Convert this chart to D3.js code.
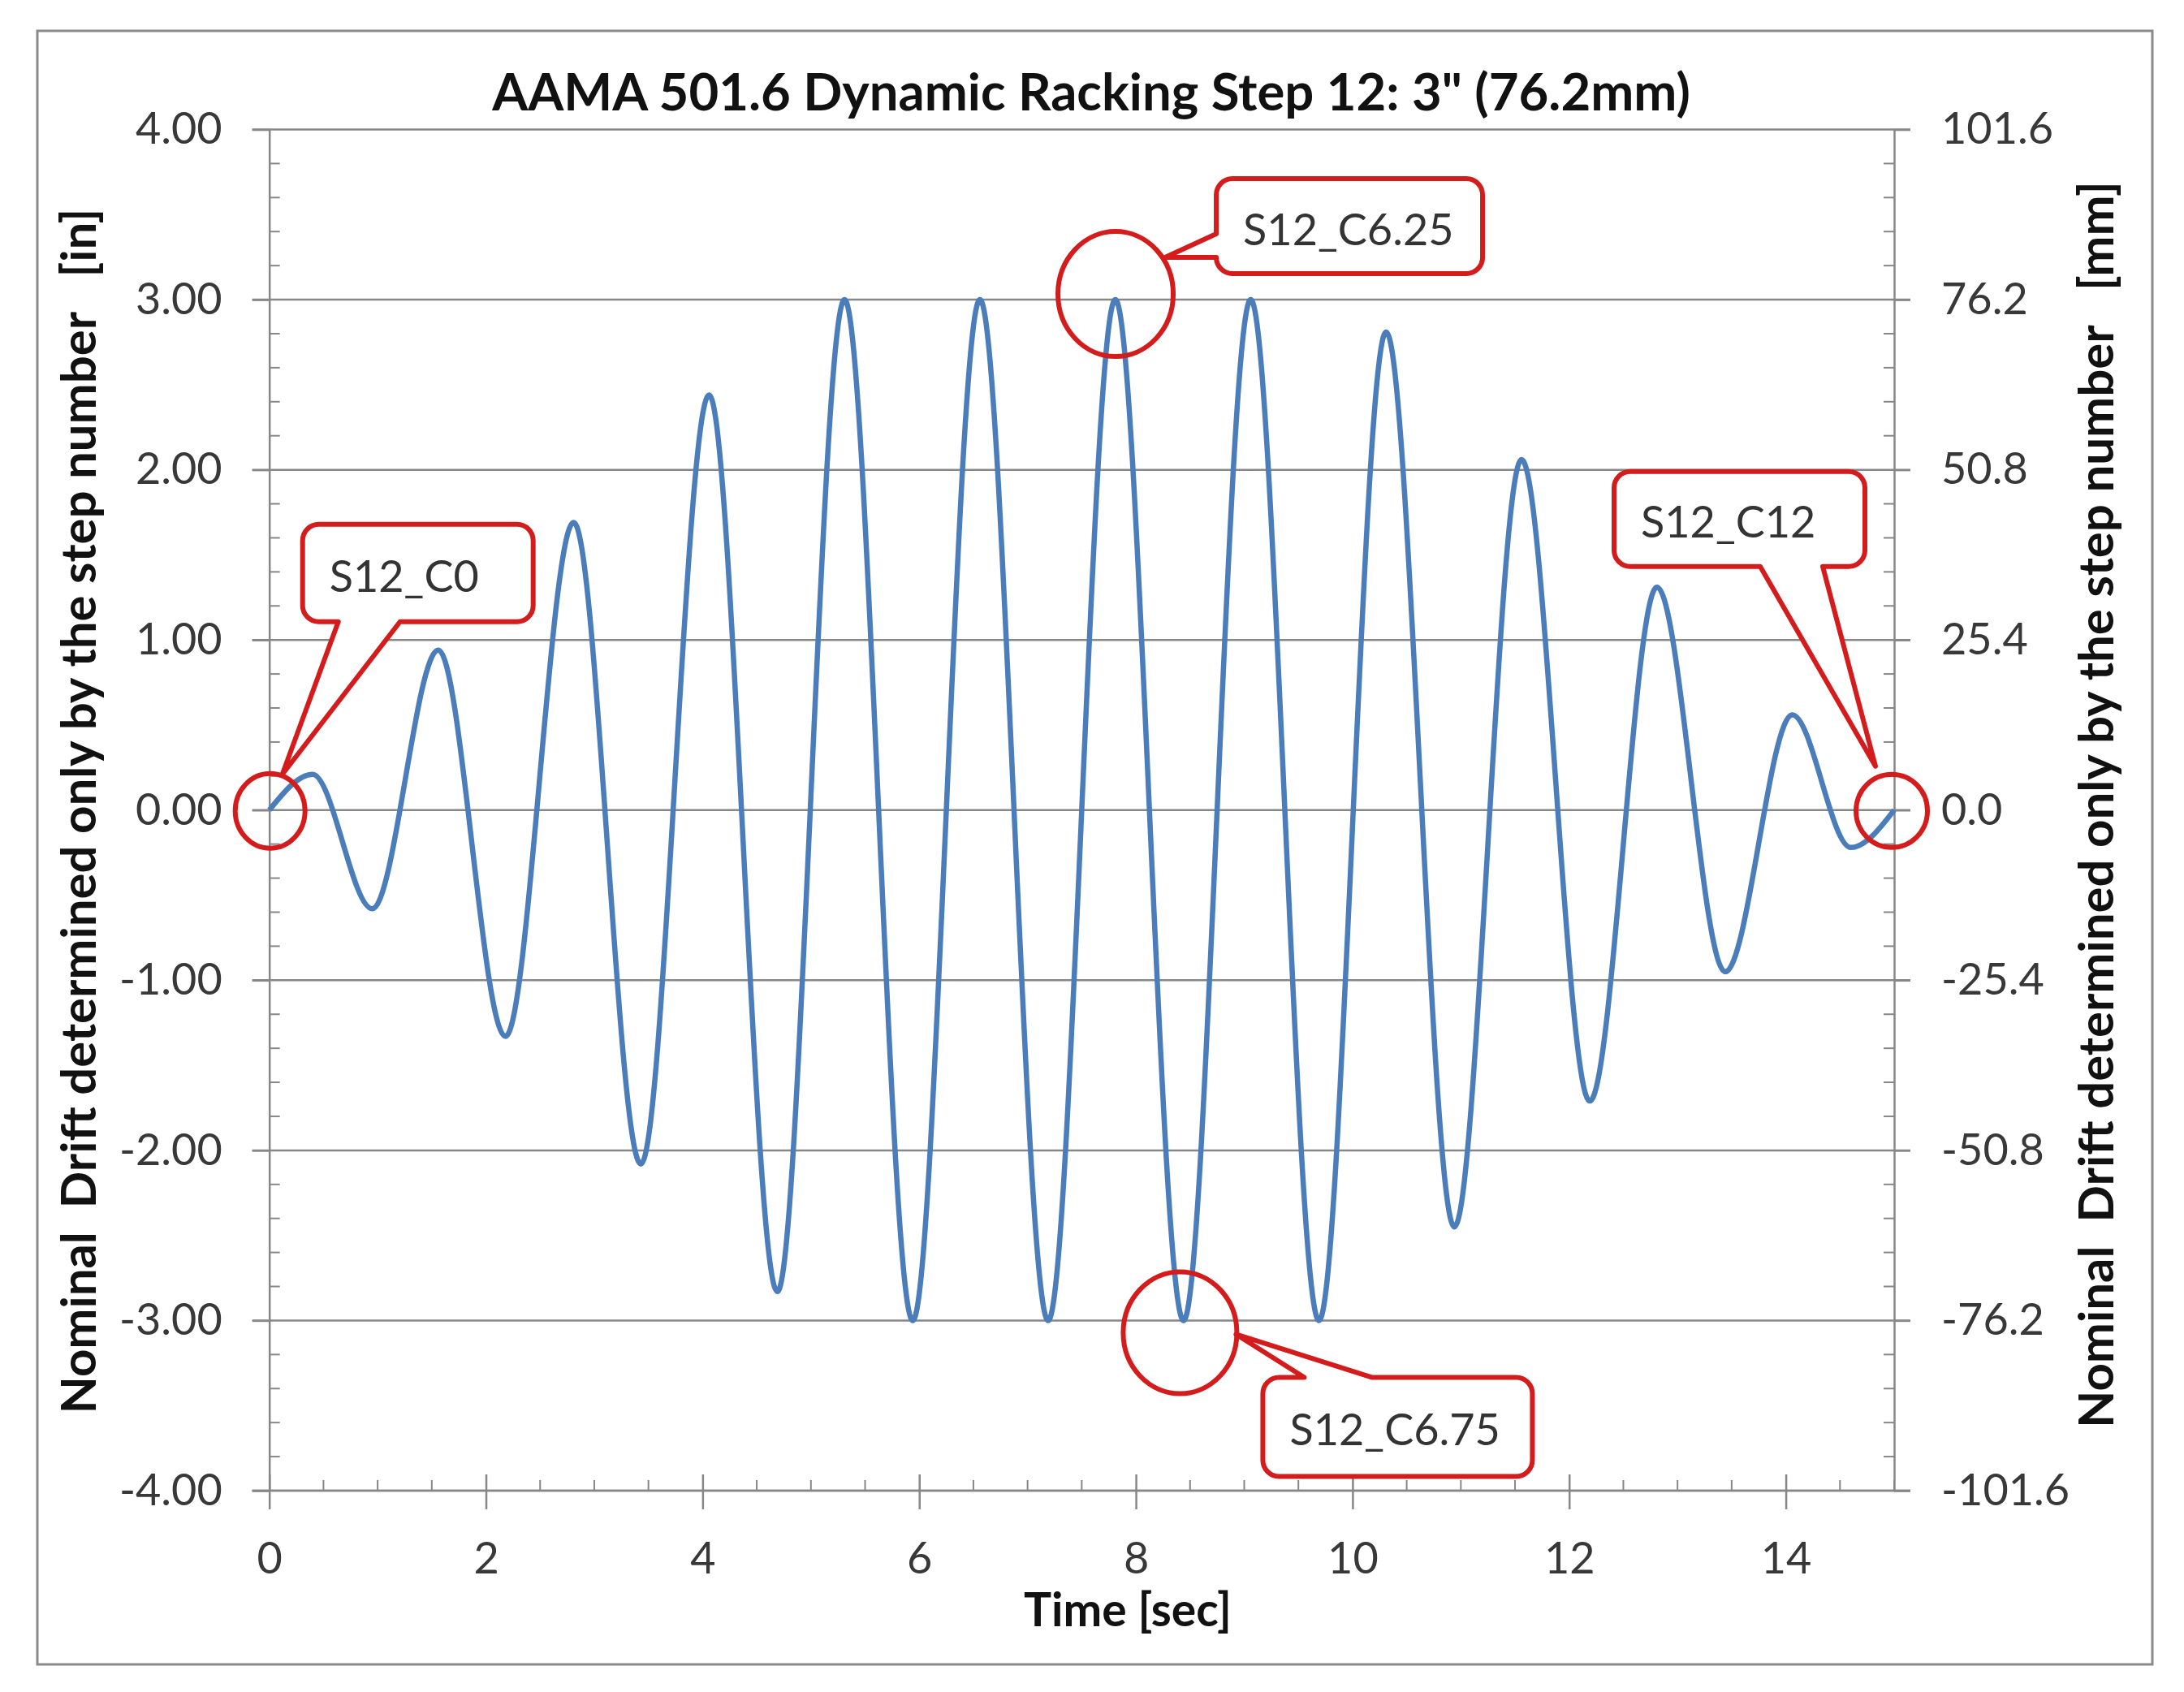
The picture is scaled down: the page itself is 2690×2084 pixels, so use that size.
<!DOCTYPE html>
<html>
<head>
<meta charset="utf-8">
<script src="https://cdn.jsdelivr.net/npm/d3@7"></script>
<style>
  html, body { margin: 0; padding: 0; background: #fff; }
  svg { display: block; }
  text { white-space: pre; }
</style>
</head>
<body>
<svg id="chart" width="2690" height="2084"></svg>
<script>
// values: turning points of the drift signal
var timeSec = [0, 0.40, 0.95, 1.56, 2.18, 2.81, 3.43, 4.06, 4.69, 5.31, 5.94, 6.56, 7.19,
  7.81, 8.44, 9.06, 9.69, 10.31, 10.94, 11.56, 12.19, 12.81, 13.44, 14.06, 14.60, 15];
var driftIn = [0, 0.21, -0.58, 0.94, -1.33, 1.69, -2.08, 2.44, -2.83, 3.00, -3.00, 3.00, -3.00,
  3.00, -3.00, 3.00, -3.00, 2.81, -2.45, 2.06, -1.71, 1.31, -0.95, 0.56, -0.22, 0];

var xTicks = [0, 2, 4, 6, 8, 10, 12, 14];
var yTicksIn = [-4, -3, -2, -1, 0, 1, 2, 3, 4];
var yTicksMm = [-101.6, -76.2, -50.8, -25.4, 0, 25.4, 50.8, 76.2, 101.6];

var calloutLabels = ["S12_C0", "S12_C6.25", "S12_C6.75", "S12_C12"];
var calloutTime = [0, 7.8125, 8.4375, 15];
var calloutDrift = [0, 3, -3, 0];

var titleText = "AAMA 501.6 Dynamic Racking Step 12: 3\" (76.2mm)";
var xTitle = "Time [sec]";
var yTitleLeft = "Nominal  Drift determined only by the step number   [in]";
var yTitleRight = "Nominal  Drift determined only by the step number   [mm]";

// layout
var plotL = 331.7, plotR = 2333, plotT = 159.5, plotB = 1836;
var gridColor = "#878787", labelColor = "#383838", lineColor = "#4a7dba", red = "#d41c1c";
var font = "Lato, 'Open Sans', sans-serif";

var svg = d3.select("#chart");

var x = d3.scaleLinear().domain([0, 15]).range([plotL, plotR]);
var y = d3.scaleLinear().domain([-4, 4]).range([plotB, plotT]);
var yMm = d3.scaleLinear().domain([-101.6, 101.6]).range([plotB, plotT]);

function fit(sel, target) {
  var len = sel.node().getComputedTextLength();
  sel.attr("font-size", parseFloat(sel.attr("font-size")) * target / len);
}

// outer border
svg.append("rect")
  .attr("x", 46).attr("y", 38).attr("width", 2605).attr("height", 2012)
  .attr("fill", "#fff").attr("stroke", "#8a8a8a").attr("stroke-width", 3);

// gridlines
svg.append("g").selectAll("line")
  .data(yTicksIn)
  .enter()
  .append("line")
  .attr("x1", plotL - 21).attr("x2", plotR + 20)
  .attr("y1", function (d) { return y(d); })
  .attr("y2", function (d) { return y(d); })
  .attr("stroke", gridColor).attr("stroke-width", 2.5);

// minor ticks (inside)
var minorY = y.ticks(32).filter(function (d) { return d % 1 !== 0; });
svg.append("g").selectAll("line")
  .data(minorY)
  .enter()
  .append("line")
  .attr("x1", plotL).attr("x2", plotL + 13)
  .attr("y1", function (d) { return y(d); }).attr("y2", function (d) { return y(d); })
  .attr("stroke", gridColor).attr("stroke-width", 2);
svg.append("g").selectAll("line")
  .data(minorY)
  .enter()
  .append("line")
  .attr("x1", plotR - 13).attr("x2", plotR)
  .attr("y1", function (d) { return y(d); }).attr("y2", function (d) { return y(d); })
  .attr("stroke", gridColor).attr("stroke-width", 2);
var minorX = x.ticks(30).filter(function (d) { return d % 2 !== 0; });
svg.append("g").selectAll("line")
  .data(minorX)
  .enter()
  .append("line")
  .attr("x1", function (d) { return x(d); }).attr("x2", function (d) { return x(d); })
  .attr("y1", plotB - 13).attr("y2", plotB)
  .attr("stroke", gridColor).attr("stroke-width", 2);

function styleAxis(g) {
  g.selectAll("path").attr("stroke", gridColor).attr("stroke-width", 2.5);
  g.selectAll("line").attr("stroke", gridColor).attr("stroke-width", 2.5);
  g.selectAll("text").attr("fill", labelColor).attr("font-family", font).attr("font-size", 54);
}

svg.append("g")
  .attr("transform", "translate(" + plotL + ",0)")
  .call(d3.axisLeft(y).tickValues(yTicksIn).tickSize(21).tickSizeOuter(0).tickPadding(37)
    .tickFormat(function (d) { return d.toFixed(2); }))
  .call(styleAxis);

svg.append("g")
  .attr("transform", "translate(" + plotR + ",0)")
  .call(d3.axisRight(yMm).tickValues(yTicksMm).tickSize(20).tickSizeOuter(0).tickPadding(38)
    .tickFormat(function (d) { return d.toFixed(1); }))
  .call(styleAxis);

var xAxis = svg.append("g")
  .attr("transform", "translate(0," + plotB + ")")
  .call(d3.axisBottom(x).tickValues(xTicks).tickSize(23).tickSizeOuter(0).tickPadding(41))
  .call(styleAxis);
xAxis.selectAll(".tick line").attr("y1", -20);
xAxis.select(".domain").attr("d", "M" + (plotL - 21) + ",0H" + (plotR + 20));

// the signal
var line = d3.line()
  .x(function (d, i) { return x(timeSec[i]); })
  .y(function (d) { return y(d); })
  .curve(d3.curveMonotoneX);

svg.append("path")
  .datum(driftIn)
  .attr("d", line)
  .attr("fill", "none")
  .attr("stroke", lineColor)
  .attr("stroke-width", 6.5)
  .attr("stroke-linejoin", "round");

// titles
svg.append("text")
  .attr("x", 1344).attr("y", 136)
  .attr("text-anchor", "middle")
  .attr("font-family", font).attr("font-weight", "bold").attr("font-size", 58)
  .attr("fill", "#111")
  .text(titleText)
  .call(fit, 1476);

svg.append("text")
  .attr("x", 1389).attr("y", 2003)
  .attr("text-anchor", "middle")
  .attr("font-family", font).attr("font-weight", "bold").attr("font-size", 50)
  .attr("fill", "#111")
  .text(xTitle)
  .call(fit, 256);

svg.append("text")
  .attr("transform", "translate(118,999) rotate(-90)")
  .attr("text-anchor", "middle")
  .attr("font-family", font).attr("font-weight", "bold").attr("font-size", 52)
  .attr("fill", "#111")
  .text(yTitleLeft)
  .call(fit, 1485);

svg.append("text")
  .attr("transform", "translate(2603,991) rotate(-90)")
  .attr("text-anchor", "middle")
  .attr("font-family", font).attr("font-weight", "bold").attr("font-size", 52)
  .attr("fill", "#111")
  .text(yTitleRight)
  .call(fit, 1536);

// callouts: offsets from the marked point, in px
var calloutLayout = [
  { circle: [1, 1, 43, 46], box: [41, -352, 284, 120], side: "bottom", base: [85, 161], tip: [16, -44] },
  { circle: [0, -7, 71, 77], box: [124, -149, 328, 117], side: "left", base: [-81, -52], tip: [61, -52] },
  { circle: [-4, 15, 70, 75], box: [98, 70, 332, 122], side: "top", base: [149, 232], tip: [65, 17] },
  { circle: [-3, 1, 44, 45], box: [-345, -417, 309, 117], side: "bottom", base: [-165, -88], tip: [-23, -54] }
];

function calloutPath(bx, by, bw, bh, side, b1, b2, tx, ty) {
  var r = 20, p = d3.path();
  p.moveTo(bx + r, by);
  if (side === "top") {
    p.lineTo(b1, by); p.lineTo(tx, ty); p.lineTo(b2, by);
  }
  p.lineTo(bx + bw - r, by);
  p.arcTo(bx + bw, by, bx + bw, by + r, r);
  p.lineTo(bx + bw, by + bh - r);
  p.arcTo(bx + bw, by + bh, bx + bw - r, by + bh, r);
  if (side === "bottom") {
    p.lineTo(b2, by + bh); p.lineTo(tx, ty); p.lineTo(b1, by + bh);
  }
  p.lineTo(bx + r, by + bh);
  p.arcTo(bx, by + bh, bx, by + bh - r, r);
  if (side === "left") {
    p.lineTo(bx, b2); p.lineTo(tx, ty); p.lineTo(bx, b1);
  }
  p.lineTo(bx, by + r);
  p.arcTo(bx, by, bx + r, by, r);
  p.closePath();
  return p.toString();
}

svg.append("g").selectAll("g")
  .data(calloutLabels)
  .enter()
  .append("g")
  .each(function (label, i) {
    var g = d3.select(this);
    var px = x(calloutTime[i]), py = y(calloutDrift[i]);
    var L = calloutLayout[i];
    var bx = px + L.box[0], by = py + L.box[1], bw = L.box[2], bh = L.box[3];
    var b1, b2;
    if (L.side === "left") { b1 = py + L.base[0]; b2 = py + L.base[1]; }
    else { b1 = px + L.base[0]; b2 = px + L.base[1]; }
    g.append("path")
      .attr("d", calloutPath(bx, by, bw, bh, L.side, b1, b2, px + L.tip[0], py + L.tip[1]))
      .attr("fill", "#fff")
      .attr("stroke", red).attr("stroke-width", 6).attr("stroke-linejoin", "round");
    g.append("text")
      .attr("x", bx + 33).attr("y", by + bh / 2 + 23)
      .attr("font-family", font).attr("font-size", 54)
      .attr("fill", "#333")
      .text(label);
    g.append("ellipse")
      .attr("cx", px + L.circle[0]).attr("cy", py + L.circle[1])
      .attr("rx", L.circle[2]).attr("ry", L.circle[3])
      .attr("fill", "none")
      .attr("stroke", red).attr("stroke-width", 6);
  });
</script>
</body>
</html>
